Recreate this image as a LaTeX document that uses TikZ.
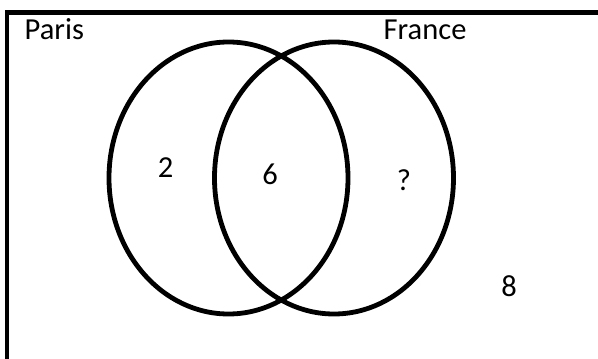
\documentclass[tikz,border=0pt]{standalone}
\usepackage{fontspec}
\setmainfont{Carlito}
\usetikzlibrary{shapes.geometric}
\begin{document}
\begin{tikzpicture}[x=1pt,y=-1pt,
  setshape/.style={ellipse,draw=black,line width=4.8pt,inner sep=0pt,
    minimum width=239pt,minimum height=272pt},
  lbl/.style={font=\fontsize{30.5}{36}\selectfont,inner sep=0pt,text=black}]
\clip (0,0) rectangle (598,359);
\useasboundingbox (0,0) rectangle (598,359);
\fill[white] (0,0) rectangle (598,359);
\node[draw=black,line width=4.6pt,minimum width=620pt,minimum height=380pt,inner sep=0pt,anchor=north west] (frame) at (4.5,10) {};
\node[setshape] (paris) at (228.5,178) {};
\node[setshape] (france) at (334,178) {};
\node[lbl,anchor=base west] (tparis) at (24.5,39.5) {Paris};
\node[lbl,anchor=base west] (tfrance) at (383.5,39.5) {France};
\node[lbl,anchor=base] (n2) at (165.5,177.7) {2};
\node[lbl,anchor=base] (n6) at (270,184) {6};
\node[lbl,anchor=base] (nq) at (404,190) {?};
\node[lbl,anchor=base] (n8) at (509,296.7) {8};
\end{tikzpicture}
\end{document}
